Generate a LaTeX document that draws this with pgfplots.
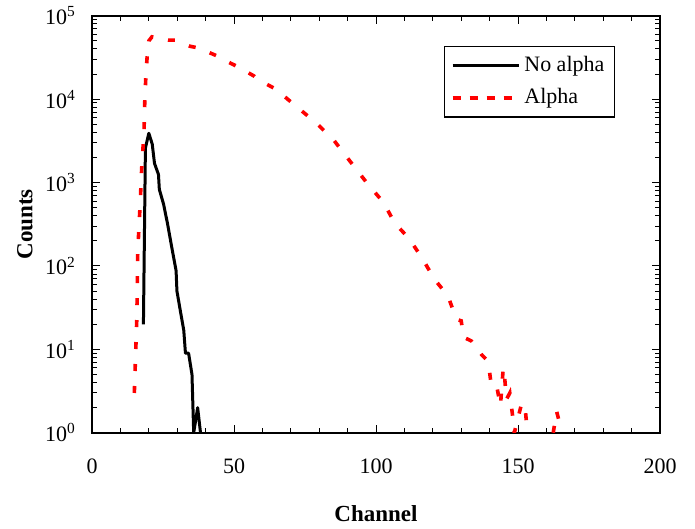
\documentclass[border=0pt]{standalone}
\usepackage{pgfplots}
\pgfplotsset{compat=1.18}
\usepackage{fontspec}
\setmainfont{Liberation Serif}
\begin{document}
\begin{tikzpicture}
\begin{axis}[
  scale only axis,
  width=284pt, height=208.5pt,
  xmin=0, xmax=200,
  ymode=log, ymin=1, ymax=100000,
  xtick={0,50,100,150,200},
  xticklabels={0,50,100,150,200},
  minor x tick num=4,
  ytick={1,10,100,1000,10000,100000},
  yticklabels={10\textsuperscript{0},10\textsuperscript{1},10\textsuperscript{2},10\textsuperscript{3},10\textsuperscript{4},10\textsuperscript{5}},
  tick align=inside,
  major tick length=4pt,
  minor tick length=2.5pt,
  every tick/.style={black, line width=0.5pt},
  axis line style={line width=0.8pt},
  xticklabel style={font=\fontsize{11}{13}\selectfont, yshift=-9.5pt},
  yticklabel style={font=\fontsize{11}{13}\selectfont, xshift=-4.5pt},
  xlabel={\textbf{Channel}},
  ylabel={\textbf{Counts}},
  xlabel style={font=\fontsize{11.5}{13}\selectfont, at={(axis description cs:0.5,-0.195)}, anchor=center},
  ylabel style={font=\fontsize{11.5}{13}\selectfont, at={(axis description cs:-0.118,0.5)}, anchor=center, rotate=0},
  legend style={at={(axis description cs:0.62,0.928)}, anchor=north west, draw=black, line width=0.6pt,
    font=\fontsize{11}{13}\selectfont, row sep=3pt, inner xsep=3pt, inner ysep=3pt},
  legend cell align=left,
  legend image code/.code={\draw[#1] (0pt,0pt) -- (33pt,0pt);},
]
\coordinate (bl) at (axis description cs:-0.162,-0.228);
\coordinate (tr) at (axis description cs:1.0616,1.036);
\addplot[black, line width=1.5pt, line join=round] coordinates {
(18.1,20) (18.8,2600) (20.0,3900) (21.2,2900) (22.0,1700) (23.4,1250) (23.7,830)
(25.2,550) (26.6,320) (28.1,166) (29.6,88) (29.9,50) (31.1,29) (32.3,17) (32.9,9)
(34.0,9) (35.2,5) (35.8,1) (37.2,2) (38.2,1)
};
\addlegendentry{No alpha}
\addplot[red, line width=1.8pt, dash pattern=on 3.5pt off 7.5pt,
  legend image post style={dash pattern=on 4pt off 4.5pt}] coordinates {
(14.9,3) (15.8,25) (16.1,150) (17.0,600) (17.5,1500) (18.3,4000) (18.6,10000)
(19.0,20000) (19.4,32000) (20.0,50000) (21.1,56000) (24,53000) (27,51000) (29.3,51000)
(34.6,43000) (37,41500) (42.3,35000) (44,33000) (48.8,27000) (51.1,24700) (57,19000)
(58.2,17400) (64.7,13200) (71.7,8300) (78.8,5250) (85.3,3170) (91.2,1740) (97.1,960)
(102.7,575) (106.5,330) (111.8,210) (116.5,120) (120.6,69) (125.3,44) (128.3,23)
(130,22) (130.8,14) (133.6,12.6) (135.9,10) (137.1,8.7) (139.5,7.2) (140.3,4.4)
(140.6,3.8) (142.4,3.8) (143.8,2.1) (144.8,6) (145.3,4.6) (145.9,2.5) (147.1,3)
(148.0,1.7) (148.7,1) (151.2,2.2) (152.4,2.2) (153.3,1)
};
\addlegendentry{Alpha}
\addplot[red, line width=1.8pt, dash pattern=on 3.5pt off 7.5pt, forget plot] coordinates {
(162.4,1) (163.6,1.8) (164.8,1.25) (165.3,1)
};
\end{axis}
\path (bl) rectangle (tr);
\end{tikzpicture}
\end{document}
